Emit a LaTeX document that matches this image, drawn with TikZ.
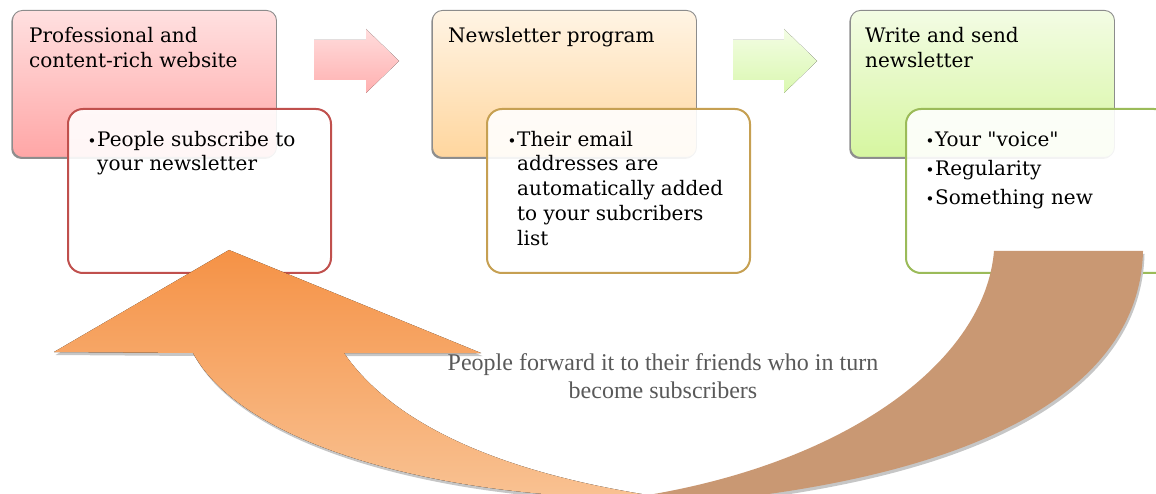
\documentclass[tikz,border=0pt]{standalone}
\usepackage{fontspec}
\usetikzlibrary{shadows}
\setmainfont{DejaVu Serif}
\newfontfamily\boxfont{DejaVu Serif}
\newfontfamily\timesfont{Liberation Serif}
\definecolor{pinkT}{RGB}{255,224,224}
\definecolor{pinkB}{RGB}{255,166,166}
\definecolor{orgT}{RGB}{255,244,228}
\definecolor{orgB}{RGB}{255,214,158}
\definecolor{grnT}{RGB}{243,252,228}
\definecolor{grnB}{RGB}{214,246,160}
\definecolor{apinkT}{RGB}{255,220,220}
\definecolor{apinkB}{RGB}{255,176,176}
\definecolor{agrnT}{RGB}{243,253,228}
\definecolor{agrnB}{RGB}{218,248,176}
\definecolor{redB}{RGB}{192,80,77}
\definecolor{goldB}{RGB}{198,160,82}
\definecolor{greenB}{RGB}{155,187,89}
\definecolor{arrOT}{RGB}{245,146,70}
\definecolor{arrOB}{RGB}{249,196,150}
\definecolor{brownA}{RGB}{201,152,115}
\definecolor{txtgray}{RGB}{89,89,89}
\tikzset{
  topbox/.style={draw=black!45, line width=0.9pt, rounded corners=10pt, anchor=north west,
    minimum width=264pt, minimum height=147pt, inner sep=0pt,
    drop shadow={shadow xshift=-1.2pt, shadow yshift=-1.5pt, fill=black!55, opacity=0.8}},
  botbox/.style={fill=white, fill opacity=0.9, line width=2pt, rounded corners=15pt, anchor=north west,
    minimum width=263pt, minimum height=164pt, inner sep=0pt},
  txt/.style={anchor=base west, inner sep=0pt, font=\boxfont\fontsize{20}{24}\selectfont, text=black},
  note/.style={anchor=base, inner sep=0pt, font=\timesfont\fontsize{24}{28}\selectfont, text=txtgray},
  shade/.style={fill=gray!45}
}
\newcommand{\bu}{\makebox[9.5pt][l]{\fontsize{15}{15}\selectfont\raisebox{0.5pt}{•}}}
\begin{document}
\begin{tikzpicture}[x=1pt,y=-1pt]
\useasboundingbox (0,0) rectangle (1156,494);
\clip (0,0) rectangle (1156,494);
% top boxes
\node[topbox, top color=pinkT, bottom color=pinkB] (p1) at (12,10) {};
\node[topbox, top color=orgT, bottom color=orgB] (p2) at (432,10) {};
\node[topbox, top color=grnT, bottom color=grnB] (p3) at (850,10) {};
% straight arrows
\fill[top color=apinkT, bottom color=apinkB] (314,40) -- (366,40) -- (366,29) -- (399,61) -- (366,93) -- (366,80) -- (314,80) -- cycle;
\fill[top color=agrnT, bottom color=agrnB] (733,40) -- (784,40) -- (784,29) -- (817,61) -- (784,93) -- (784,80) -- (733,80) -- cycle;
% bottom boxes
\node[botbox, draw=redB] (s1) at (67,108) {};
\node[botbox, draw=goldB] (s2) at (486,108) {};
\node[botbox, draw=greenB] (s3) at (905,108) {};
% titles
\node[txt] (t1a) at (29,43) {Professional and};
\node[txt] (t1b) at (29,68) {content-rich website};
\node[txt] (t2a) at (448,43) {Newsletter program};
\node[txt] (t3a) at (865,43) {Write and send};
\node[txt] (t3b) at (865,68) {newsletter};
% bullets
\node[txt] (b1a) at (87.5,147) {\bu People subscribe to};
\node[txt] (b1b) at (97,171) {your newsletter};
\node[txt] (b2a) at (507.5,147) {\bu Their email};
\node[txt] (b2b) at (517,171) {addresses are};
\node[txt] (b2c) at (517,196) {automatically added};
\node[txt] (b2d) at (517,221) {to your subcribers};
\node[txt] (b2e) at (517,246) {list};
\node[txt] (b3a) at (925.5,147) {\bu Your "voice"};
\node[txt] (b3b) at (925.5,176) {\bu Regularity};
\node[txt] (b3c) at (925.5,205) {\bu Something new};
% curved arrow shadow
\begin{scope}[shift={(1.5,3)}]
\fill[shade] (994,251) -- (1143,251) .. controls (1140,380) and (1000,470) .. (720,500) -- (640,515) -- (648,495) .. controls (850,461) and (985,360) .. (994,251) -- cycle;
\fill[shade] (229,250) -- (481,353) -- (344,353) .. controls (390,420) and (490,470) .. (648,495) -- (648,510) -- (620,510) -- (620,498) .. controls (420,494) and (240,440) .. (193,353) -- (54,352) -- cycle;
\end{scope}
% brown back part
\fill[brownA] (994,251) -- (1143,251) .. controls (1140,380) and (1000,470) .. (720,500) -- (640,515) -- (648,495) .. controls (850,461) and (985,360) .. (994,251) -- cycle;
% orange front part with head
\fill[top color=arrOT, bottom color=arrOB] (229,250) -- (481,353) -- (344,353) .. controls (390,420) and (490,470) .. (648,495) -- (648,510) -- (620,510) -- (620,498) .. controls (420,494) and (240,440) .. (193,353) -- (54,352) -- cycle;
% note
\node[note] (n1) at (663,370) {People forward it to their friends who in turn};
\node[note] (n2) at (663,398) {become subscribers};
\end{tikzpicture}
\end{document}
